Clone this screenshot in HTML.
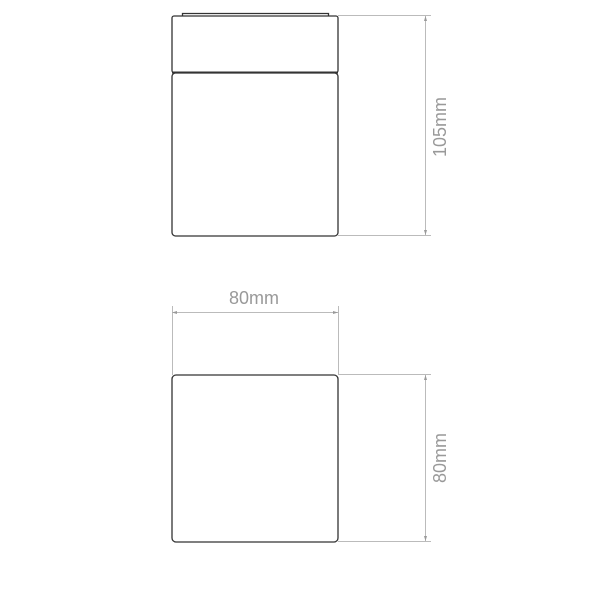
<!DOCTYPE html>
<html><head><meta charset="utf-8"><style>
html,body{margin:0;padding:0;background:#fff;}
svg{display:block}
text{font-family:"Liberation Sans",sans-serif;fill:#999;font-size:18px}
</style></head><body>
<svg width="600" height="600" viewBox="0 0 600 600">
<g fill="none" stroke="#333" stroke-width="1.3">
  <path d="M182.5 16 V13.5 H328.5 V16"/>
  <rect x="172" y="16" width="166" height="56.5" rx="2"/>
  <rect x="172" y="73" width="166" height="163" rx="3.5"/>
  <line x1="172" y1="72.5" x2="338" y2="72.5" stroke-width="2"/>
  <rect x="172" y="375" width="166" height="167" rx="4"/>
</g>
<g stroke="#bbb" stroke-width="1" fill="none">
  <line x1="338" y1="15.5" x2="431" y2="15.5"/>
  <line x1="338" y1="235.5" x2="431" y2="235.5"/>
  <line x1="425.5" y1="16" x2="425.5" y2="235"/>
  <line x1="172.5" y1="306" x2="172.5" y2="375"/>
  <line x1="338.5" y1="306" x2="338.5" y2="375"/>
  <line x1="172" y1="312.5" x2="338" y2="312.5"/>
  <line x1="338" y1="374.5" x2="431" y2="374.5"/>
  <line x1="338" y1="541.5" x2="431" y2="541.5"/>
  <line x1="425.5" y1="375" x2="425.5" y2="541"/>
</g>
<g fill="#999">
  <path d="M425.5 16 l-1.5 5 h3z M425.5 235 l-1.5 -5 h3z"/>
  <path d="M172 312.5 l5 -1.5 v3z M338 312.5 l-5 -1.5 v3z"/>
  <path d="M425.5 375 l-1.5 5 h3z M425.5 541 l-1.5 -5 h3z"/>
</g>
<text x="254" y="304" text-anchor="middle">80mm</text>
<text transform="translate(446,127) rotate(-90)" text-anchor="middle">105mm</text>
<text transform="translate(446,458) rotate(-90)" text-anchor="middle">80mm</text>
</svg>
</body></html>
